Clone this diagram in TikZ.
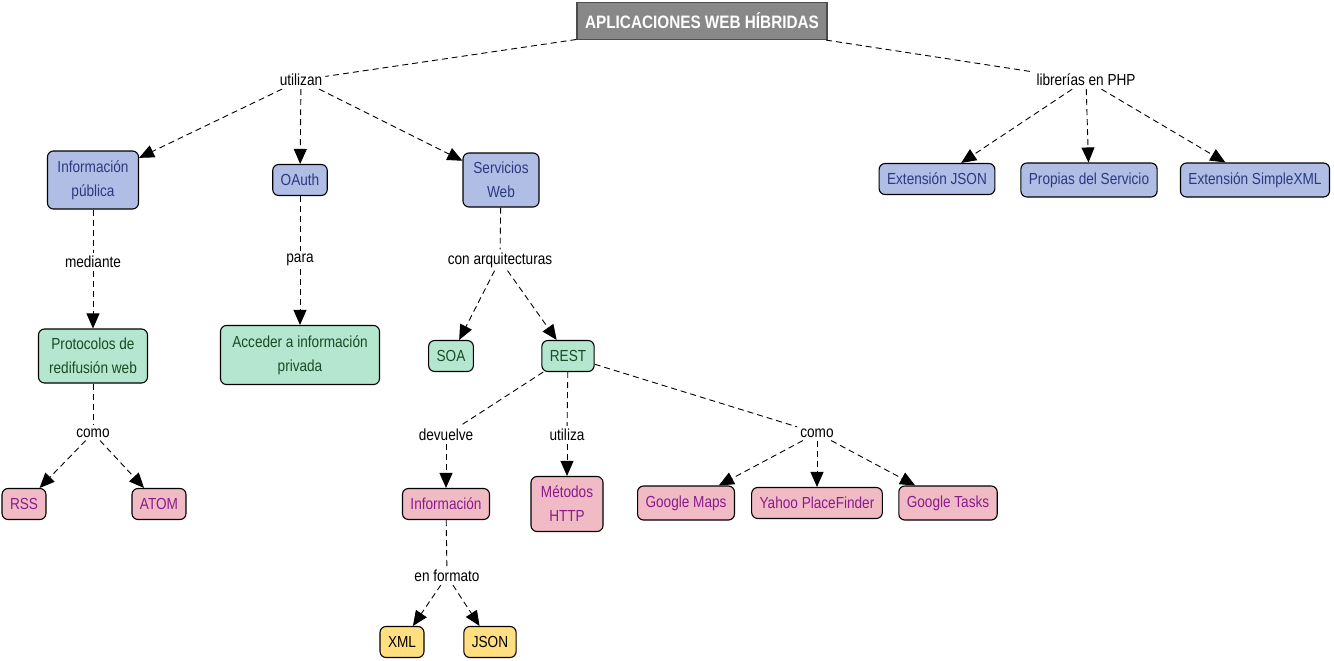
\documentclass[tikz,border=0pt]{standalone}
\usepackage{fontspec}
\setmainfont[FakeStretch=0.85]{Liberation Sans}
\usetikzlibrary{arrows.meta}
\definecolor{bfill}{HTML}{B0BEE6}
\definecolor{btext}{HTML}{2B3A7E}
\definecolor{gfill}{HTML}{B5E6CF}
\definecolor{gtext}{HTML}{1C4A24}
\definecolor{pfill}{HTML}{F1BBC6}
\definecolor{ptext}{HTML}{8A1B8C}
\definecolor{yfill}{HTML}{FFDF80}
\definecolor{tfill}{HTML}{888888}
\tikzset{
  concept/.style={draw=black, line width=1.1pt, rounded corners=6pt, align=center,
    inner xsep=8pt, inner ysep=4pt, minimum height=31pt, font=\fontsize{16}{24}\selectfont},
  blue/.style={concept, fill=bfill, text=btext},
  green/.style={concept, fill=gfill, text=gtext},
  pink/.style={concept, fill=pfill, text=ptext},
  yellow/.style={concept, fill=yfill, text=black},
  lbl/.style={inner sep=3pt, font=\fontsize{16}{18}\selectfont, text=black},
  link/.style={draw=black, line width=0.9pt, dash pattern=on 6pt off 4pt},
  arr/.style={link, -{Triangle[length=15pt,width=13pt]}},
}
\begin{document}
\begin{tikzpicture}[x=1pt,y=-1pt]
\useasboundingbox (0,0) rectangle (1334,661);
\node[draw=black!70, line width=1.2pt, fill=tfill, text=white, minimum width=250pt, minimum height=37pt,
  font=\fontsize{18}{20}\selectfont\bfseries] (title) at (702,21) {APLICACIONES WEB HÍBRIDAS};

\node[lbl] (utilizan) at (301,80) {utilizan};
\node[lbl] (php) at (1086,80) {librerías en PHP};

\node[blue, minimum width=91pt, minimum height=58pt] (infpub) at (93,180) {Información\\pública};
\node[blue] (oauth) at (300,180) {OAuth};
\node[blue, minimum width=76pt, minimum height=54pt] (sw) at (501,180) {Servicios\\Web};
\node[blue] (ejson) at (937,179) {Extensión JSON};
\node[blue, minimum height=34pt] (propias) at (1089,180) {Propias del Servicio};
\node[blue, minimum height=34pt] (exml) at (1255,180) {Extensión SimpleXML};

\node[lbl] (mediante) at (93,262) {mediante};
\node[lbl] (para) at (300,260) {para};
\node[lbl] (conarq) at (500,260) {con arquitecturas};

\node[green, minimum width=109pt, minimum height=54pt] (proto) at (93,356) {Protocolos de\\redifusión web};
\node[green, minimum width=159pt, minimum height=59pt] (acceder) at (300,355) {Acceder a información\\privada};
\node[green] (soa) at (451,356) {SOA};
\node[green] (rest) at (568,356) {REST};

\node[lbl] (como1) at (93,433) {como};
\node[lbl] (devuelve) at (446,435) {devuelve};
\node[lbl] (utiliza) at (567,435) {utiliza};
\node[lbl] (como2) at (817,433) {como};

\node[pink] (rss) at (24,504) {RSS};
\node[pink] (atom) at (159,504) {ATOM};
\node[pink] (info) at (446,504) {Información};
\node[pink, minimum width=72pt, minimum height=55pt] (metodos) at (567,504) {Métodos\\HTTP};
\node[pink, minimum height=34pt] (gmaps) at (686,503) {Google Maps};
\node[pink] (yahoo) at (817,503) {Yahoo PlaceFinder};
\node[pink, minimum height=34pt] (gtasks) at (948,503) {Google Tasks};

\node[lbl] (formato) at (447,576) {en formato};
\node[yellow] (xml) at (402,642) {XML};
\node[yellow] (json) at (490,642) {JSON};

\draw[link] (title) -- (utilizan);
\draw[link] (title) -- (php);
\draw[arr] (utilizan) -- (infpub);
\draw[arr] (utilizan) -- (oauth);
\draw[arr] (utilizan) -- (sw);
\draw[arr] (php) -- (ejson);
\draw[arr] (php) -- (propias);
\draw[arr] (php) -- (exml);

\draw[link] (infpub) -- (mediante);
\draw[arr] (mediante) -- (proto);
\draw[link] (oauth) -- (para);
\draw[arr] (para) -- (acceder);
\draw[link] (sw) -- (conarq);
\draw[arr] (conarq) -- (soa);
\draw[arr] (conarq) -- (rest);

\draw[link] (proto) -- (como1);
\draw[arr] (como1) -- (rss);
\draw[arr] (como1) -- (atom);

\draw[link] (rest) -- (devuelve);
\draw[arr] (devuelve) -- (info);
\draw[link] (rest) -- (utiliza);
\draw[arr] (utiliza) -- (metodos);
\draw[link] (rest) -- (como2);
\draw[arr] (como2) -- (gmaps);
\draw[arr] (como2) -- (yahoo);
\draw[arr] (como2) -- (gtasks);

\draw[link] (info) -- (formato);
\draw[arr] (formato) -- (xml);
\draw[arr] (formato) -- (json);
\end{tikzpicture}
\end{document}
